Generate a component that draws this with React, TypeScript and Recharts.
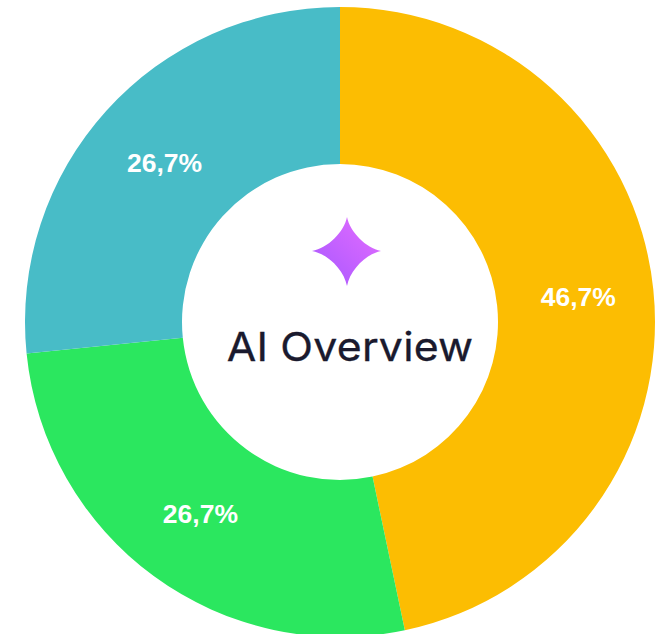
import { PieChart, Pie, Cell } from 'recharts'

const SEGMENTS = ['Amarelo', 'Verde', 'Azul']
const VALUES = [46.7, 26.7, 26.6]
const LABELS = ['46,7%', '26,7%', '26,7%']
const COLORS = ['#fcbd02', '#2be75f', '#48bcc7']

const data = SEGMENTS.map((name, i) => ({ name, value: VALUES[i] }))
const RAD = Math.PI / 180

function renderLabel({ cx, cy, midAngle, innerRadius, outerRadius, index }: any) {
  const r = (innerRadius + outerRadius) / 2
  // labels are not quite on the mid radius in the original
  const x = cx + r * Math.cos(-midAngle * RAD) + (index === 0 ? 3 : 0)
  const y = cy + r * Math.sin(-midAngle * RAD) + (index === 0 ? -1 : index === 1 ? 1 : 0)
  return (
    <text x={x} y={y} fill="#fff" textAnchor="middle" dominantBaseline="central"
      style={{ fontFamily: 'Liberation Sans', fontSize: 26.5, fontWeight: 700 }}>
      {LABELS[index]}
    </text>
  )
}

export default function App() {
  return (
    <div style={{ position: 'absolute', left: 0, top: 0, width: 660, height: 634, background: '#fff' }}>
      <PieChart width={660} height={634} margin={{ top: 0, right: 0, bottom: 0, left: 0 }}>
        <Pie
          data={data}
          dataKey="value"
          cx={340}
          cy={322}
          innerRadius={158}
          outerRadius={315}
          startAngle={90}
          endAngle={-270}
          stroke="none"
          label={renderLabel}
          labelLine={false}
          isAnimationActive={false}
        >
          {data.map((d, i) => (
            <Cell key={d.name} fill={COLORS[i]} />
          ))}
        </Pie>
      </PieChart>
      <svg width={80} height={76} viewBox="0 0 80 76" style={{ position: 'absolute', left: 306, top: 214 }}>
        <defs>
          <linearGradient id="spark" x1="1" y1="0" x2="0" y2="1">
            <stop offset="0%" stopColor="#e66dff" />
            <stop offset="100%" stopColor="#a557ff" />
          </linearGradient>
        </defs>
        <path
          d="M41 3 C44 18 60 34 75 37 C60 40 44 56 41 72 C38 56 22 40 6 37 C22 34 38 18 41 3 Z"
          fill="url(#spark)"
        />
      </svg>
      <div style={{ position: 'absolute', left: 190, width: 320, top: 322, textAlign: 'center', fontFamily: 'Inter', fontSize: 40, letterSpacing: 0.2, lineHeight: '50px', color: '#1a1a2e', whiteSpace: 'nowrap', transform: 'scaleX(1.07)', WebkitTextStroke: '0.3px #1a1a2e' }}>
        AI Overview
      </div>
    </div>
  )
}
